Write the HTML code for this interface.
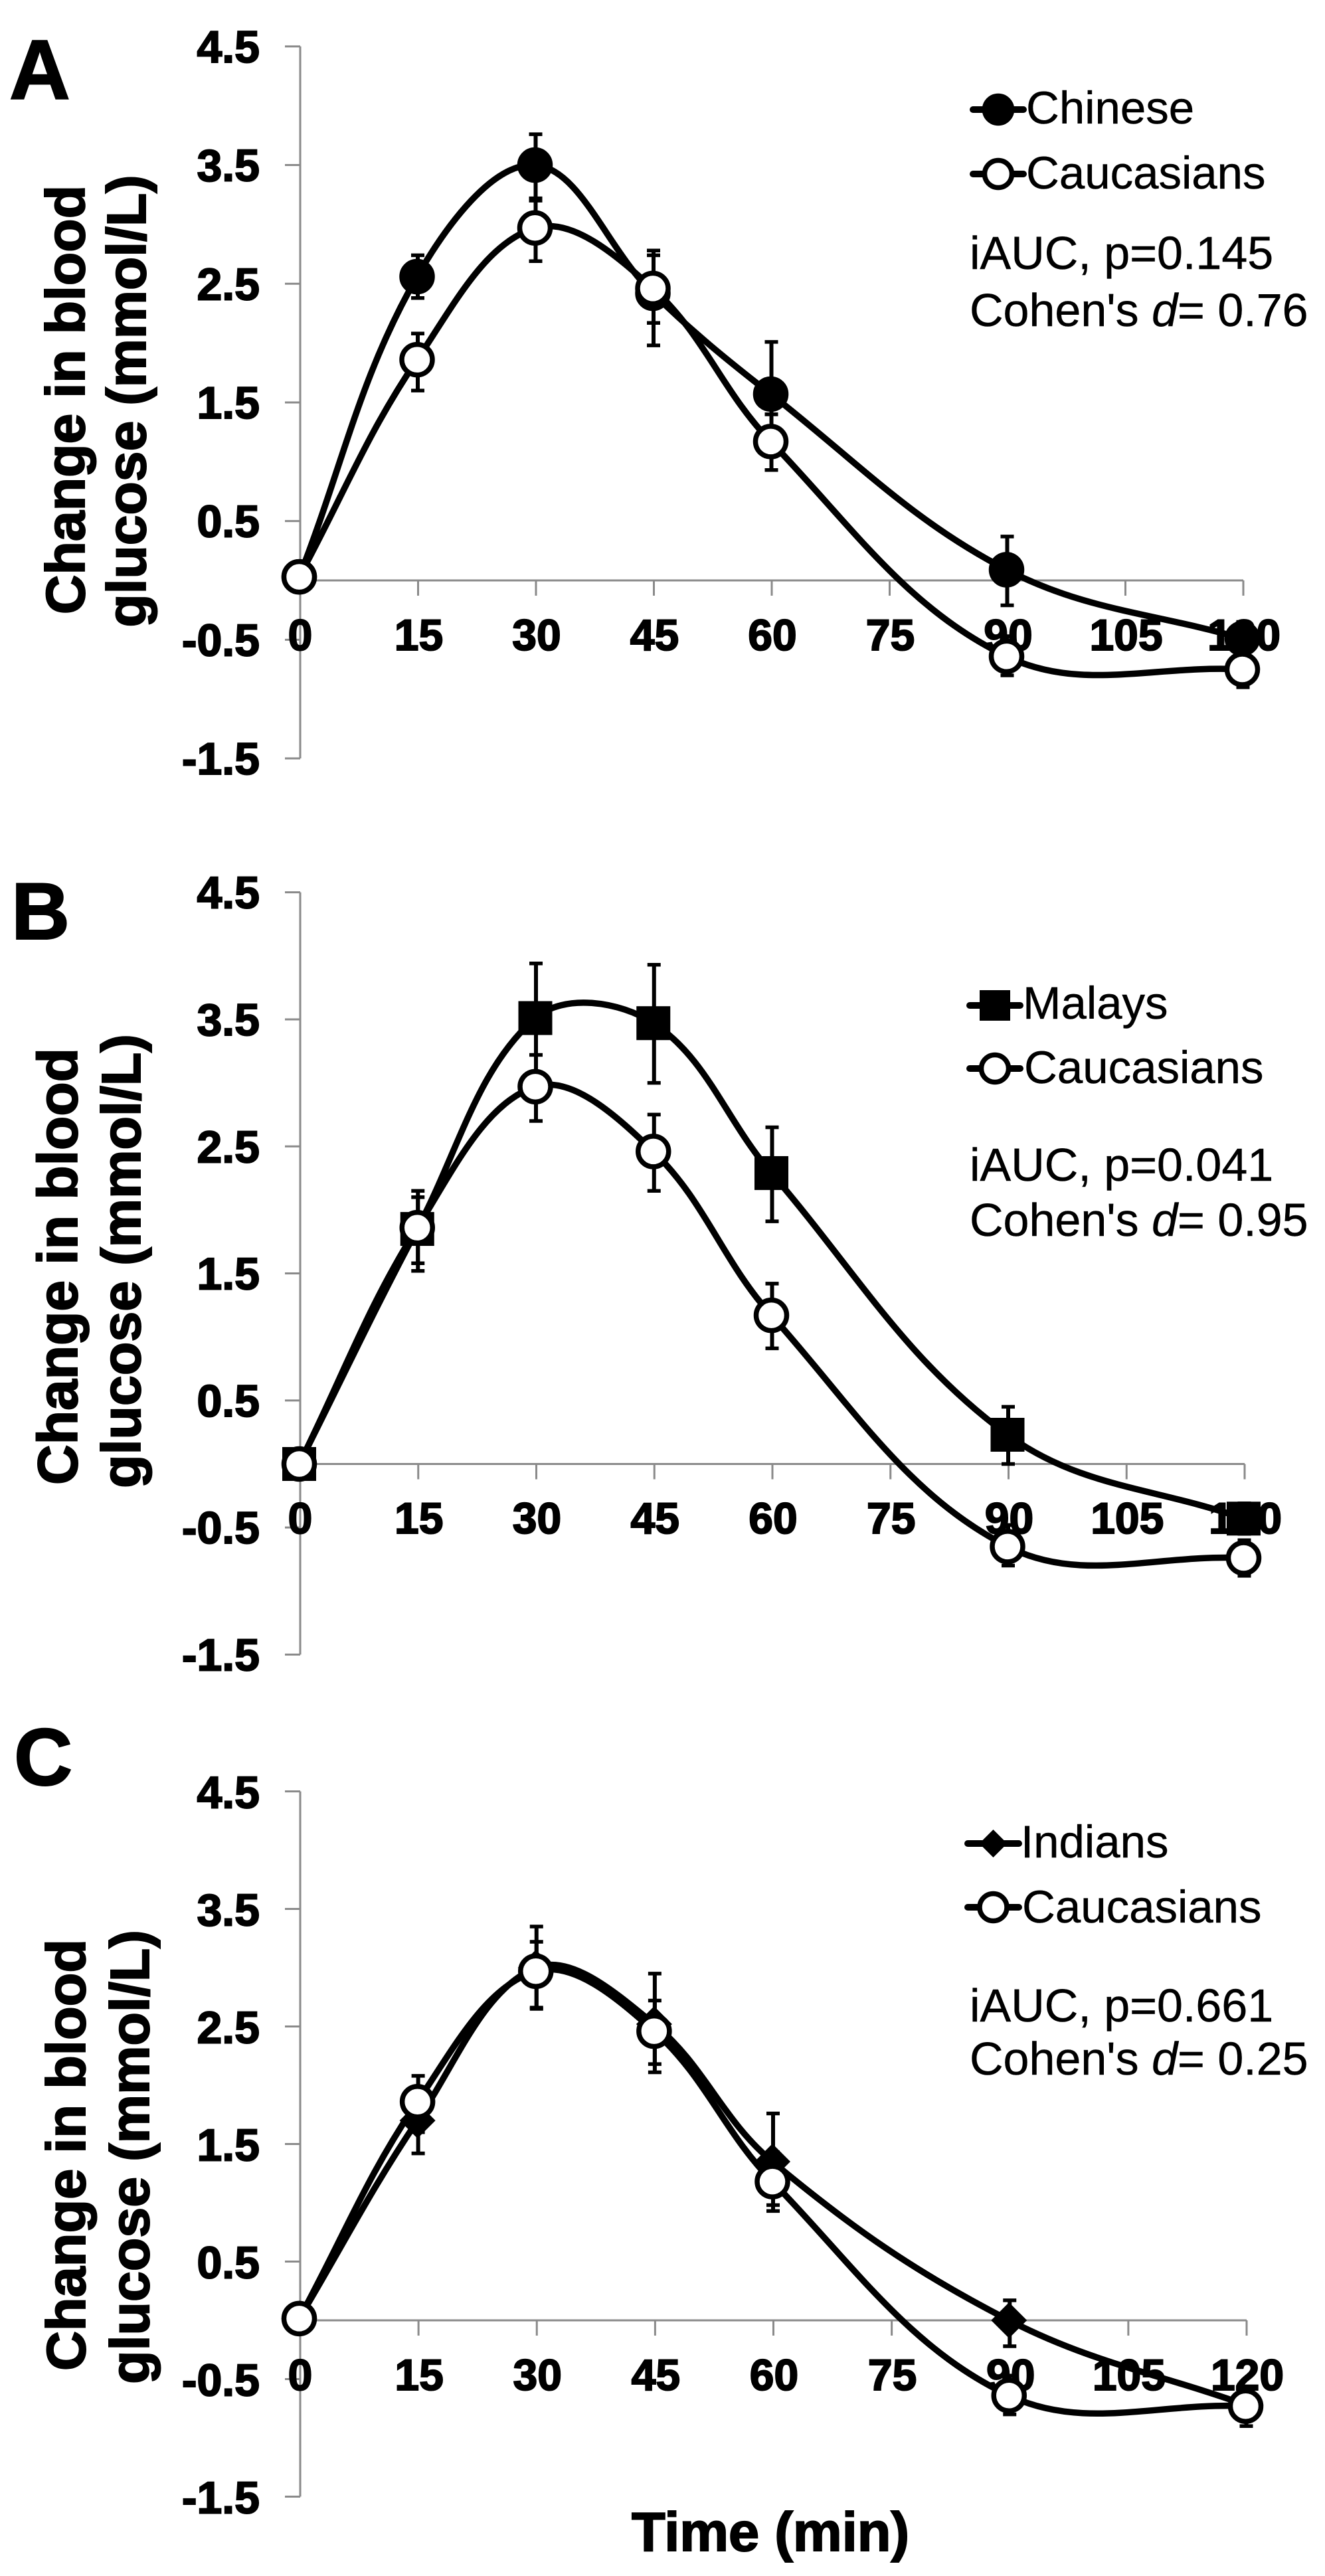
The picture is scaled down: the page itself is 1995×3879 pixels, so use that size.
<!DOCTYPE html>
<html lang="en">
<head>
<meta charset="utf-8">
<title>Change in blood glucose by ethnic group</title>
<style>
html,body{margin:0;padding:0;background:#fff;}
#figure{display:block;width:1995px;height:3879px;}
text{font-family:"Liberation Sans",Arial,sans-serif;fill:#000;stroke:#000;stroke-width:0.5px;}
.b{font-weight:bold;stroke:#000;stroke-width:2px;}
</style>
</head>
<body>
<svg id="figure" xmlns="http://www.w3.org/2000/svg" width="1995" height="3879" viewBox="0 0 1995 3879">
<rect x="0" y="0" width="1995" height="3879" fill="#fff"/>

<text class="b" font-size="127" x="14" y="149">A</text>
<text class="b" font-size="122" x="17" y="1414">B</text>
<text class="b" font-size="122" x="21" y="2688">C</text>

<g>
<text class="b" font-size="82.5" text-anchor="middle" transform="translate(127,602) rotate(-90)">Change in blood</text>
<text class="b" font-size="82.3" text-anchor="middle" transform="translate(219,604) rotate(-90)">glucose (mmol/L)</text>
</g>
<g>
<text class="b" font-size="84" text-anchor="middle" transform="translate(116,1907) rotate(-90)">Change in blood</text>
<text class="b" font-size="82.6" text-anchor="middle" transform="translate(211,1899) rotate(-90)">glucose (mmol/L)</text>
</g>
<g>
<text class="b" font-size="83" text-anchor="middle" transform="translate(128,3245) rotate(-90)">Change in blood</text>
<text class="b" font-size="82.6" text-anchor="middle" transform="translate(224,3248) rotate(-90)">glucose (mmol/L)</text>
</g>

<g id="panel-a"></g>
<g id="panel-b"></g>
<g id="panel-c"></g>

<g>
<text font-size="69" x="1545" y="186">Chinese</text>
<text font-size="69" x="1545" y="284">Caucasians</text>
<text font-size="70" x="1460" y="405">iAUC, p=0.145</text>
<text font-size="70" x="1460" y="491">Cohen's <tspan font-style="italic">d</tspan>= 0.76</text>
</g>
<g>
<text font-size="69" x="1540" y="1534">Malays</text>
<text font-size="69" x="1542" y="1631">Caucasians</text>
<text font-size="70" x="1460" y="1778">iAUC, p=0.041</text>
<text font-size="70" x="1460" y="1861">Cohen's <tspan font-style="italic">d</tspan>= 0.95</text>
</g>
<g>
<text font-size="69" x="1537" y="2797">Indians</text>
<text font-size="69" x="1539" y="2895">Caucasians</text>
<text font-size="70" x="1460" y="3044">iAUC, p=0.661</text>
<text font-size="70" x="1460" y="3124">Cohen's <tspan font-style="italic">d</tspan>= 0.25</text>
</g>

<text class="b" font-size="83" x="951" y="3841">Time (min)</text>
</svg>

<script>
// ---- data ----
const yTicks = [4.5, 3.5, 2.5, 1.5, 0.5, -0.5, -1.5];
const yTickLabels = ['4.5', '3.5', '2.5', '1.5', '0.5', '-0.5', '-1.5'];
const xTicks = [0, 15, 30, 45, 60, 75, 90, 105, 120];
const xTickLabels = ['0', '15', '30', '45', '60', '75', '90', '105', '120'];
const sampleTimes = [0, 15, 30, 45, 60, 90, 120];

const chineseMean = [0.03, 2.56, 3.5, 2.42, 1.57, 0.09, -0.49];
const chineseUpper = [0.03, 2.74, 3.76, 2.78, 2.01, 0.37, -0.35];
const chineseLower = [0.03, 2.38, 3.20, 1.98, 1.40, -0.21, -0.62];
const caucasianAMean = [0.03, 1.86, 2.97, 2.46, 1.17, -0.64, -0.75];
const caucasianAUpper = [0.03, 2.08, 3.22, 2.74, 1.40, -0.47, -0.61];
const caucasianALower = [0.03, 1.60, 2.69, 2.17, 0.93, -0.80, -0.90];

const malaysMean = [0, 1.85, 3.51, 3.47, 2.29, 0.23, -0.43];
const malaysUpper = [0, 2.15, 3.94, 3.93, 2.65, 0.45, -0.31];
const malaysLower = [0, 1.52, 3.08, 3.00, 1.91, 0.0, -0.55];
const caucasianBMean = [0, 1.86, 2.97, 2.46, 1.17, -0.65, -0.74];
const caucasianBUpper = [0, 2.10, 3.22, 2.75, 1.42, -0.48, -0.60];
const caucasianBLower = [0, 1.58, 2.70, 2.15, 0.91, -0.80, -0.88];

const indiansMean = [0.015, 1.70, 3.0, 2.52, 1.35, 0.0, -0.72];
const indiansUpper = [0.015, 1.97, 3.35, 2.95, 1.76, 0.17, -0.60];
const indiansLower = [0.015, 1.42, 2.65, 2.11, 0.98, -0.22, -0.84];
const caucasianCMean = [0.015, 1.86, 2.97, 2.46, 1.18, -0.64, -0.73];
const caucasianCUpper = [0.015, 2.08, 3.22, 2.72, 1.43, -0.47, -0.58];
const caucasianCLower = [0.015, 1.60, 2.66, 2.18, 0.93, -0.80, -0.90];

// ---- drawing ----
const NS = 'http://www.w3.org/2000/svg';
const GREY = '#8a8a8a';
const LINE_W = 9.5;
const SMOOTH = 0.37;

function el(parent, tag, name, attrs) {
  const node = document.createElementNS(NS, tag);
  
  
  for (const k in attrs) node.setAttribute(k, attrs[k]);
  parent.appendChild(node);
  return node;
}

function smoothPath(pts) {
  let d = 'M' + pts[0][0] + ' ' + pts[0][1];
  const dist = (a, b) => Math.hypot(a[0] - b[0], a[1] - b[1]);
  for (let i = 0; i < pts.length - 1; i++) {
    const p0 = pts[Math.max(i - 1, 0)], p1 = pts[i], p2 = pts[i + 1], p3 = pts[Math.min(i + 2, pts.length - 1)];
    const seg = dist(p1, p2);
    const f1 = SMOOTH * seg / (dist(p0, p1) + seg);
    const f2 = SMOOTH * seg / (seg + dist(p2, p3));
    const c1 = [p1[0] + (p2[0] - p0[0]) * f1, p1[1] + (p2[1] - p0[1]) * f1];
    const c2 = [p2[0] - (p3[0] - p1[0]) * f2, p2[1] - (p3[1] - p1[1]) * f2];
    d += 'C' + c1[0].toFixed(1) + ' ' + c1[1].toFixed(1) + ' ' + c2[0].toFixed(1) + ' ' + c2[1].toFixed(1) + ' ' + p2[0].toFixed(1) + ' ' + p2[1].toFixed(1);
  }
  return d;
}

function drawMarker(g, kind, cx, cy, m, name) {
  if (kind === 'circle') {
    el(g, 'ellipse', name, {cx: cx, cy: cy, rx: m.r, ry: m.r, fill: '#000', stroke: '#000', 'stroke-width': 7.5});
  } else if (kind === 'open') {
    el(g, 'ellipse', name, {cx: cx, cy: cy, rx: m.r, ry: m.r, fill: '#fff', stroke: '#000', 'stroke-width': 7.5});
  } else if (kind === 'square') {
    el(g, 'rect', name, {x: cx - m.sq, y: cy - m.sq, width: 2 * m.sq, height: 2 * m.sq, fill: '#000'});
  } else {
    el(g, 'polygon', name, {points: [[cx - m.dia, cy], [cx, cy - m.dia], [cx + m.dia, cy], [cx, cy + m.dia]].map(p => p.join(',')).join(' '), fill: '#000'});
  }
}

function drawSeries(root, sc, kind, label, mean, upper, lower, m) {
  const g = el(root, 'g', label + '-series', {});
  const pts = sampleTimes.map((t, i) => [sc.x(t) - 1.5, sc.y(mean[i])]);
  sampleTimes.forEach((t, i) => {
    if (upper[i] === lower[i]) return;
    const x = sc.x(t) - 0.5;
    const yu = sc.y(upper[i]), yl = sc.y(lower[i]);
    el(g, 'line', label + '-error-bar', {x1: x, x2: x, y1: yu, y2: yl, stroke: '#000', 'stroke-width': 6});
    el(g, 'line', label + '-error-cap-upper', {x1: x - 10, x2: x + 10, y1: yu, y2: yu, stroke: '#000', 'stroke-width': 5.5});
    el(g, 'line', label + '-error-cap-lower', {x1: x - 10, x2: x + 10, y1: yl, y2: yl, stroke: '#000', 'stroke-width': 5.5});
  });
  el(g, 'path', label + '-line', {d: smoothPath(pts), fill: 'none', stroke: '#000', 'stroke-width': LINE_W, 'stroke-linejoin': 'round'});
  pts.forEach(p => drawMarker(g, kind, p[0], p[1], m, label + '-marker'));
}

function drawPanel(id, f) {
  const root = document.getElementById(id);
  const sc = {
    x: t => f.x0 + (t / 120) * (f.x120 - f.x0),
    y: v => f.zero - v * f.pitch
  };
  const axes = el(root, 'g', 'axes', {});
  el(axes, 'line', 'y-axis', {x1: f.x0, x2: f.x0, y1: sc.y(4.5), y2: sc.y(-1.5), stroke: GREY, 'stroke-width': 3});
  el(axes, 'line', 'x-axis', {x1: f.x0, x2: f.x120, y1: f.zero, y2: f.zero, stroke: GREY, 'stroke-width': 3});
  yTicks.forEach((v, i) => {
    el(axes, 'line', 'y-tick', {x1: f.x0 - 23, x2: f.x0, y1: sc.y(v), y2: sc.y(v), stroke: GREY, 'stroke-width': 3});
    const lab = el(axes, 'text', 'y-tick-label', {'class': 'b', 'font-size': 68, 'text-anchor': 'end', x: 391, y: sc.y(v) + f.yLabelOffset});
    lab.textContent = yTickLabels[i];
  });
  xTicks.forEach((t, i) => {
    el(axes, 'line', 'x-tick', {x1: sc.x(t), x2: sc.x(t), y1: f.zero, y2: f.zero + 23, stroke: GREY, 'stroke-width': 3});
    const lab = el(axes, 'text', 'x-tick-label', {'class': 'b', 'font-size': 66, 'text-anchor': 'middle', x: sc.x(t) + (i === 0 ? 0 : 1), y: f.xLabelBase});
    lab.textContent = xTickLabels[i];
  });
  const m = f.marker;
  drawSeries(root, sc, f.kind, f.label, f.mean, f.upper, f.lower, m);
  drawSeries(root, sc, 'open', 'caucasians', f.cMean, f.cUpper, f.cLower, m);
  const lg = el(root, 'g', 'legend-keys', {});
  const l = f.legend;
  el(lg, 'line', f.label + '-legend-line', {x1: l.x1, x2: l.x2, y1: l.y1, y2: l.y1, stroke: '#000', 'stroke-width': 10, 'stroke-linecap': 'round'});
  drawMarker(lg, f.kind, (l.x1 + l.x2) / 2, l.y1, legendKey, f.label + '-legend-marker');
  el(lg, 'line', 'caucasians-legend-line', {x1: l.x1, x2: l.x2, y1: l.y2, y2: l.y2, stroke: '#000', 'stroke-width': 10, 'stroke-linecap': 'round'});
  drawMarker(lg, 'open', (l.x1 + l.x2) / 2, l.y2, legendKey, 'caucasians-legend-marker');
}

const legendKey = {r: 20.5, sq: 23, dia: 21};
const plotMarker = {r: 23, sq: 25.5, dia: 27};

drawPanel('panel-a', {
  x0: 452, x120: 1872, zero: 874, pitch: 178.7, xLabelBase: 979, yLabelOffset: 24, kind: 'circle', label: 'chinese',
  mean: chineseMean, upper: chineseUpper, lower: chineseLower,
  cMean: caucasianAMean, cUpper: caucasianAUpper, cLower: caucasianALower,
  marker: plotMarker,
  legend: {x1: 1465, x2: 1541, y1: 165, y2: 262}
});
drawPanel('panel-b', {
  x0: 452, x120: 1874, zero: 2204.5, pitch: 191.3, xLabelBase: 2309, yLabelOffset: 24, kind: 'square', label: 'malays',
  mean: malaysMean, upper: malaysUpper, lower: malaysLower,
  cMean: caucasianBMean, cUpper: caucasianBUpper, cLower: caucasianBLower,
  marker: plotMarker,
  legend: {x1: 1460, x2: 1536, y1: 1514, y2: 1609}
});
drawPanel('panel-c', {
  x0: 452, x120: 1877, zero: 3494, pitch: 177, xLabelBase: 3599, yLabelOffset: 25, kind: 'diamond', label: 'indians',
  mean: indiansMean, upper: indiansUpper, lower: indiansLower,
  cMean: caucasianCMean, cUpper: caucasianCUpper, cLower: caucasianCLower,
  marker: plotMarker,
  legend: {x1: 1457, x2: 1534, y1: 2776, y2: 2872}
});
</script>
</body>
</html>
